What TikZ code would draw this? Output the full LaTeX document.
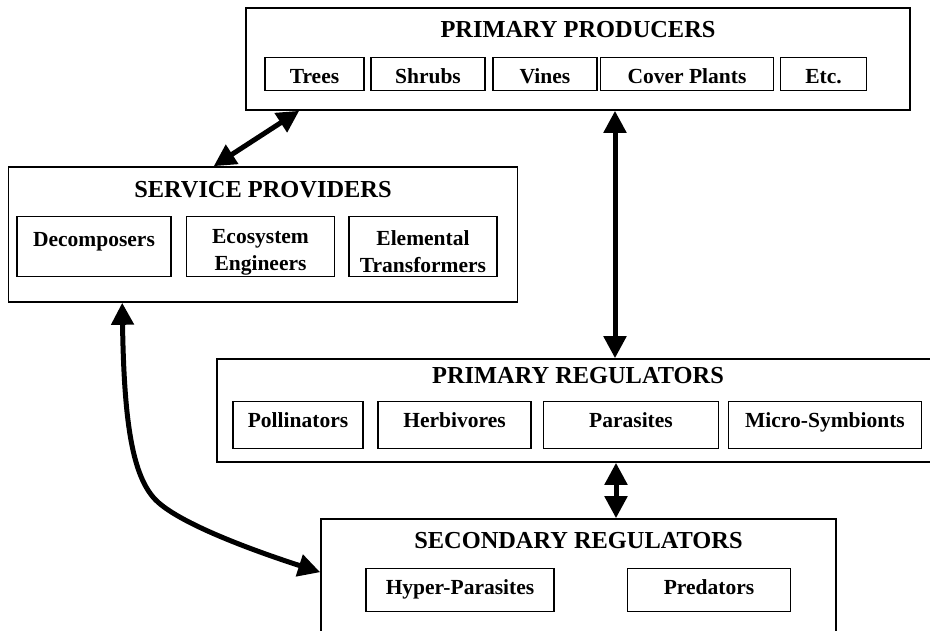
\documentclass[tikz,border=0pt]{standalone}
\usepackage{fontspec}
\setmainfont{Liberation Serif}
\usetikzlibrary{arrows.meta,positioning,calc}

\begin{document}
\begin{tikzpicture}[x=1pt,y=-1pt,
		group/.style={rectangle,draw=black,line width=1.6pt,inner sep=0pt},
		heading/.style={anchor=base,inner sep=0pt,font=\fontsize{24.4}{28}\selectfont\bfseries},
		member/.style={rectangle,draw=black,line width=1.1pt,anchor=north,inner xsep=0pt,inner ysep=0pt,text height=26pt,font=\fontsize{21.5}{27}\selectfont\bfseries},
		pair/.style={rectangle,draw=black,line width=1.1pt,anchor=north,align=center,inner sep=0pt,minimum height=60pt,font=\fontsize{21.5}{27}\selectfont\bfseries},
		link/.style={{Triangle[length=22pt,width=22pt]}-{Triangle[length=22pt,width=22pt]},line width=5pt}]
		\useasboundingbox (0,0) rectangle (930,630);
		\clip (0,0) rectangle (930,630);
		
		% primary producers
		\node[group,minimum width=664pt,minimum height=102pt] (pp) at (578,59) {};
		\node[heading] (pptitle) at (578,37) {PRIMARY PRODUCERS};
		\node[member,minimum width=99pt,text depth=7pt]  (trees)  at (314.5,57) {Trees};
		\node[member,minimum width=114pt,text depth=7pt] (shrubs) at (428,57)   {Shrubs};
		\node[member,minimum width=104pt,text depth=7pt] (vines)  at (545,57)   {Vines};
		\node[member,minimum width=173pt,text depth=7pt] (cover)  at (687,57)   {Cover Plants};
		\node[member,minimum width=86pt,text depth=7pt]  (etc)    at (823.5,57) {Etc.};
		
		% service providers
		\node[group,minimum width=509pt,minimum height=135pt] (sp) at (263,234.5) {};
		\node[heading] (sptitle) at (263,197) {SERVICE PROVIDERS};
		\node[pair,minimum width=154pt] (decomp)  at (94,216)    {\rule{0pt}{26pt}Decomposers\\\mbox{}};
		\node[pair,minimum width=148pt] (engin)   at (260.5,216) {\rule{0pt}{26pt}Ecosystem\\Engineers};
		\node[pair,minimum width=148pt] (transf)  at (423,216)   {\rule{0pt}{26pt}Elemental\\Transformers};
		
		% primary regulators
		\node[group,minimum width=722pt,minimum height=103pt] (pr) at (578,410.5) {};
		\node[heading] (prtitle) at (578,383) {PRIMARY REGULATORS};
		\node[member,minimum width=130pt,text depth=21pt] (pollin) at (298,400.7)   {Pollinators};
		\node[member,minimum width=153pt,text depth=21pt] (herbiv) at (454.5,400.7) {Herbivores};
		\node[member,minimum width=175pt,text depth=21pt] (parasi) at (631,400.7)   {Parasites};
		\node[member,minimum width=193pt,text depth=21pt] (symbio) at (825,400.7)   {Micro-Symbionts};
		
		% secondary regulators
		\node[group,minimum width=515pt,minimum height=140pt] (sr) at (578.5,589) {};
		\node[heading] (srtitle) at (578.5,548.5) {SECONDARY REGULATORS};
		\node[member,minimum width=188pt,text depth=17pt] (hyper) at (460,567.7) {Hyper-Parasites};
		\node[member,minimum width=163pt,text depth=17pt] (pred)  at (709,567.7) {Predators};
		
		\coordinate (bend) at (153,497);
		\draw[link] ([xshift=206pt]sp.north west) -- ([xshift=54pt]pp.south west);
		\draw[link] ([xshift=37pt]pp.south) -- ([xshift=37pt]pr.north);
		\draw[link] ([xshift=38pt]pr.south) -- ([xshift=37.5pt]sr.north);
		\draw[link] ([xshift=114.5pt]sp.south west) .. controls (124,420) and (132,472) .. (bend)
			.. controls (175,524) and (270,556) .. ([yshift=-54pt]sr.north west);
\end{tikzpicture}
\end{document}
